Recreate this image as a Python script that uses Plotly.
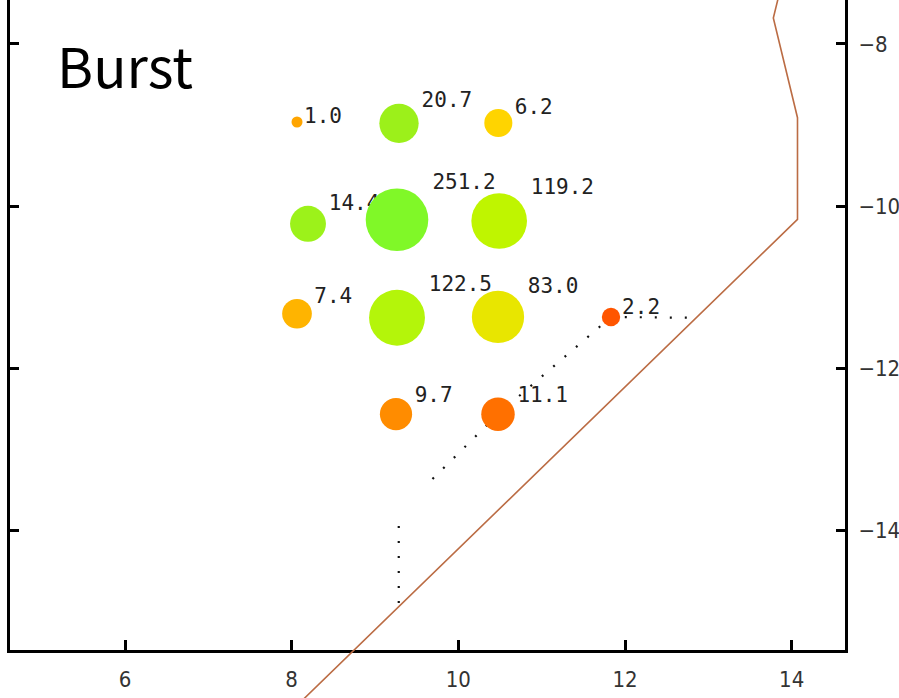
import math
import plotly.graph_objects as go

# Burst cells: centre positions, measured values and cell colours
cell_x = [8.064, 9.288, 10.48, 8.196, 9.264, 10.49, 8.064, 9.264, 10.476, 11.832, 9.252, 10.476]
cell_y = [-8.963, -8.98, -8.975, -10.22, -10.17, -10.185, -11.33, -11.38, -11.37, -11.37, -12.57, -12.57]
cell_value = [1.0, 20.7, 6.2, 14.4, 251.2, 119.2, 7.4, 122.5, 83.0, 2.2, 9.7, 11.1]
cell_color = ["#ffa500", "#9cf01a", "#ffd400", "#9cf21a", "#80f828", "#bff500",
              "#ffb400", "#b4f50a", "#e8e600", "#ff5500", "#ff8c00", "#ff7000"]

# Dotted track (two pieces, separated by a gap)
track_x = [9.285, 9.285, None, 9.69, 10.476, 11.832, 12.87]
track_y = [-14.90, -13.79, None, -13.37, -12.57, -11.37, -11.38]

# Boundary line
bound_x = [13.87, 13.78, 14.07, 14.07, 8.10]
bound_y = [-7.30, -7.68, -8.91, -10.165, -16.13]

x_ticks = [6, 8, 10, 12, 14]
y_ticks = [-8, -10, -12, -14]

# Figure geometry
W, H = 899, 698
ML, MR = 10, 54
BOTTOM_PAD = 48
x_range = [4.62, 14.64]
y_range = [-15.481, -7.457]
px_per_x = (W - ML - MR) / (x_range[1] - x_range[0])
px_per_y = (H - BOTTOM_PAD) / (y_range[1] - y_range[0])
# overlay layer spans the full height so the boundary can run below the axis
y2_range = [y_range[0] - BOTTOM_PAD / px_per_y, y_range[1]]

# marker diameter grows with log of the value
diam = [11 + 21.5 * math.log10(v) for v in cell_value]
radius = [d / 2 for d in diam]
label_x = [x + (1.1 * r + 1) / px_per_x for x, r in zip(cell_x, radius)]
label_y = [y + (1.25 * r - 3) / px_per_y for y, r in zip(cell_y, radius)]
labels = [f"{v:.1f}" for v in cell_value]

fig = go.Figure()

fig.add_trace(go.Scatter(
    x=track_x, y=track_y, mode="lines",
    line=dict(color="#111111", width=2.2, dash="2px,13px"),
    connectgaps=False, hoverinfo="skip", showlegend=False,
))

fig.add_trace(go.Scatter(
    x=label_x, y=label_y, mode="text", text=labels,
    textposition="middle right",
    textfont=dict(family="DejaVu Sans Mono", size=21, color="#222222"),
    hoverinfo="skip", showlegend=False,
))

fig.add_trace(go.Scatter(
    x=cell_x, y=cell_y, mode="markers",
    marker=dict(size=diam, color=cell_color, line=dict(width=0), opacity=1),
    showlegend=False,
))

fig.add_trace(go.Scatter(
    x=bound_x, y=bound_y, mode="lines",
    line=dict(color="#bb6c44", width=1.6),
    xaxis="x2", yaxis="y2", hoverinfo="skip", showlegend=False,
))

tick_font = dict(family="Liberation Sans Narrow, DejaVu Sans Condensed, sans-serif",
                 size=22, color="#333333")

fig.update_layout(
    width=W, height=H,
    margin=dict(l=ML, r=MR, t=0, b=0, pad=0),
    paper_bgcolor="white",
    plot_bgcolor="rgba(0,0,0,0)",
    showlegend=False,
    xaxis=dict(
        domain=[0, 1], range=x_range, anchor="y",
        showgrid=False, zeroline=False,
        showline=True, linecolor="black", linewidth=3, mirror=False,
        ticks="inside", ticklen=10, tickwidth=3, tickcolor="black",
        tickvals=x_ticks, ticktext=[str(t) for t in x_ticks],
        tickfont=tick_font, ticklabelstandoff=8,
    ),
    yaxis=dict(
        domain=[BOTTOM_PAD / H, 1], range=y_range, anchor="x",
        side="right",
        showgrid=False, zeroline=False,
        showline=True, linecolor="black", linewidth=3, mirror="ticks",
        ticks="inside", ticklen=9, tickwidth=3, tickcolor="black",
        tickvals=y_ticks, ticktext=["\u2212" + str(-t) for t in y_ticks],
        tickfont=tick_font, ticklabelstandoff=6,
    ),
    xaxis2=dict(domain=[0, 1], range=x_range, anchor="y2", visible=False),
    yaxis2=dict(domain=[0, 1], range=y2_range, anchor="x2", visible=False),
    annotations=[dict(
        text="Burst", xref="paper", yref="paper",
        x=(55 - ML) / (W - ML - MR), y=1 - 64 / H,
        xanchor="left", yanchor="middle", showarrow=False,
        font=dict(family="Noto Sans CJK JP", size=55, color="black"),
    )],
)

fig.write_html("out.html")
